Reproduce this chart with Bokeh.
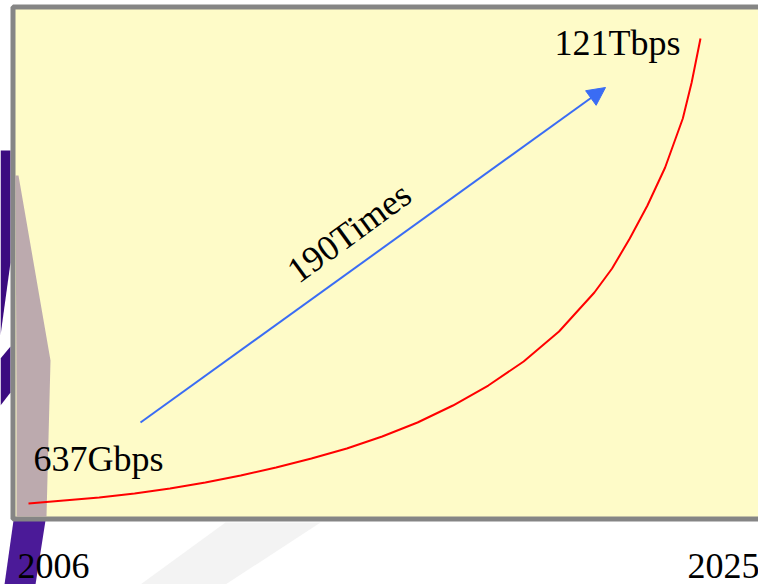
from bokeh.plotting import figure
from bokeh.models import Range1d, Arrow, NormalHead, PolyAnnotation, BoxAnnotation
from bokeh.core.properties import value
from bokeh.embed import file_html
from bokeh.resources import INLINE

# ---- data ----
years = [2006, 2007, 2008, 2009, 2010, 2011, 2012, 2013, 2014, 2015, 2016,
         2017, 2018, 2019, 2020, 2021, 2022, 2022.5, 2023, 2023.5, 2024, 2024.5, 2024.75, 2025]
capacity_tbps = [0.637, 1.41, 2.19, 3.23, 4.52, 6.07, 7.88, 9.96, 12.29, 14.87, 17.98,
                 21.60, 26.00, 31.18, 37.39, 45.16, 55.25, 61.47, 69.23, 77.77, 87.61,
                 100.30, 109.61, 121.0]
start_label = "637Gbps"
end_label = "121Tbps"
growth_label = "190Times"
year_labels = ["2006", "2025"]

# ---- layout helpers: page pixel -> data units ----
PX_PER_YEAR = 35.368
TB_PER_PX = 0.25885
def yr(px):
    return years[0] + (px - 28) / PX_PER_YEAR
def val(py):
    return capacity_tbps[0] + (503 - py) * TB_PER_PX

W, H = 758, 584
p = figure(width=W, height=H, output_backend="svg", toolbar_location=None,
           x_range=Range1d(yr(0), yr(W)), y_range=Range1d(val(H), val(0)),
           min_border=0, min_border_left=0, min_border_right=0,
           min_border_top=0, min_border_bottom=0)
p.axis.visible = False
p.grid.visible = False
p.outline_line_color = None
p.background_fill_color = "white"
p.border_fill_color = "white"

def poly(pts, color, alpha=1.0):
    p.add_layout(PolyAnnotation(xs=[yr(a) for a, b in pts], ys=[val(b) for a, b in pts],
                                fill_color=color, fill_alpha=alpha, line_color=None,
                                line_alpha=0, level="underlay"))

# backdrop decoration (shapes of the background picture)
poly([(0, 150), (10, 150), (10, 262), (0, 335)], "#3c0c80")
poly([(0, 358), (10, 346), (10, 392), (0, 405)], "#3c0c80")
poly([(13, 520), (45, 520), (35, 584), (4, 584)], "#4b1a98")
poly([(140, 584), (225, 584), (320, 522), (225, 522)], "#e8e8e8", 0.5)

# yellow box with grey border
p.add_layout(BoxAnnotation(left=yr(12.5), right=yr(800), bottom=val(518.5), top=val(6.5),
                           fill_color="#FEFBC8", fill_alpha=1.0,
                           line_color="#858585", line_alpha=1.0, line_width=5,
                           level="underlay"))

# mauve band of the backdrop showing through the box
poly([(15, 175), (18, 175), (50, 360), (46, 516), (16, 516), (16, 400)], "#a58fa5", 0.75)

# red growth curve
p.line(years, capacity_tbps, line_color="red", line_width=2)

# blue arrow
p.add_layout(Arrow(end=NormalHead(size=18, fill_color="#3a6cf4", line_color="#3a6cf4"),
                   x_start=yr(140), y_start=val(422), x_end=yr(605), y_end=val(87),
                   line_color="#3a6cf4", line_width=2))

font = value("Liberation Serif")
p.text(x=[yr(33)], y=[val(458)], text=[start_label], text_font=font,
       text_font_size="36px", text_color="black", text_align="left", text_baseline="alphabetic")
p.text(x=[yr(680)], y=[val(42)], text=[end_label], text_font=font,
       text_font_size="36px", text_color="black", text_align="right", text_baseline="alphabetic")
p.text(x=[yr(291)], y=[val(274)], text=[growth_label], text_font=font, angle=0.63,
       text_font_size="36px", text_color="black", text_align="left", text_baseline="alphabetic")
p.text(x=[yr(17), yr(687)], y=[val(565), val(565)], text=year_labels, text_font=font,
       text_font_size="36px", text_color="black", text_align="left", text_baseline="alphabetic")

open("out.html", "w").write(file_html(p, INLINE))
